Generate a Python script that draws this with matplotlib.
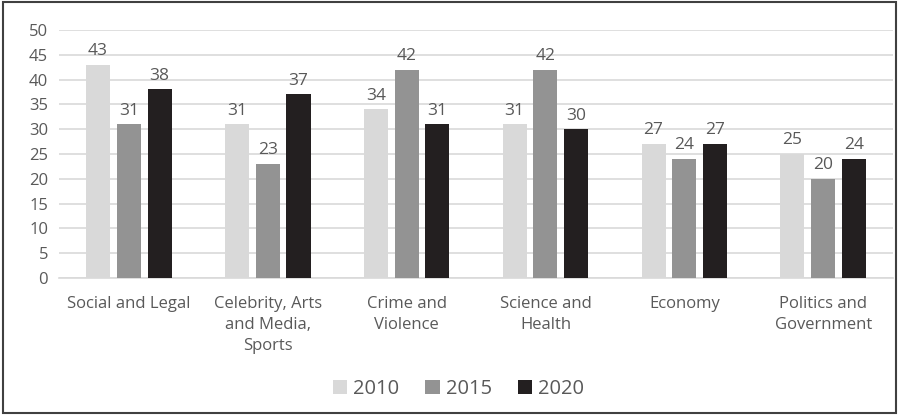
import matplotlib.pyplot as plt
import matplotlib.patches as mpatches
import numpy as np

plt.rcParams['font.family'] = ['Open Sans', 'DejaVu Sans']

categories = ['Social and Legal', 'Celebrity, Arts\nand Media,\nSports', 'Crime and\nViolence',
              'Science and\nHealth', 'Economy', 'Politics and\nGovernment']
years = ['2010', '2015', '2020']
v2010 = [43, 31, 34, 31, 27, 25]
v2015 = [31, 23, 42, 42, 24, 20]
v2020 = [38, 37, 31, 30, 27, 24]
colors = ['#d9d9d9', '#939393', '#231f20']
txt = '#595959'

fig = plt.figure(figsize=(8.99, 4.15), dpi=100)
ax = fig.add_axes([0.066, 0.33, 0.927, 0.598])

x = np.arange(len(categories))
width = 0.173
step = 0.222
for i, (vals, lab) in enumerate(zip([v2010, v2015, v2020], years)):
    bars = ax.bar(x + (i - 1) * step, vals, width=width, color=colors[i], label=lab, zorder=3)
    ax.bar_label(bars, padding=4, fontsize=12.5, color=txt)

ax.set_xlim(-0.5, len(categories) - 0.5)
ax.set_ylim(0, 50)
ax.set_yticks(range(0, 51, 5))
ax.set_xticks(x)
ax.set_xticklabels(categories, fontsize=12, color=txt, linespacing=1.4)
ax.tick_params(axis='y', labelsize=12, labelcolor=txt, length=0, pad=8)
ax.tick_params(axis='x', length=0, pad=13)
ax.yaxis.grid(True, color='#d9d9d9', linewidth=1.2, zorder=0)
for s in ['top', 'right', 'left']:
    ax.spines[s].set_visible(False)
ax.spines['bottom'].set_color('#d9d9d9')
ax.spines['bottom'].set_linewidth(1.2)

fig.legend(loc='center', bbox_to_anchor=(0.51, 0.063), ncol=3, frameon=False,
           fontsize=14.5, labelcolor=txt, handlelength=0.7, handleheight=0.7,
           handletextpad=0.3, columnspacing=1.3)

fig.patches.append(mpatches.Rectangle((0.003, 0.004), 0.994, 0.991, transform=fig.transFigure,
                                      fill=False, edgecolor='#404040', linewidth=1.5))

fig.savefig('out.png', dpi=100)
